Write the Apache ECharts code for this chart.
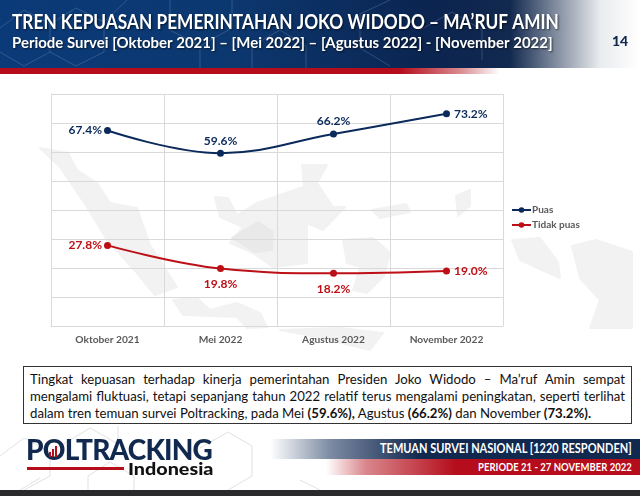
<!DOCTYPE html>
<html>
<head>
<meta charset="utf-8">
<title>Tren Kepuasan</title>
<script src="https://cdn.jsdelivr.net/npm/echarts@6/dist/echarts.min.js"></script>
<style>
html, body { margin: 0; padding: 0; background: #fff; }
#page { position: relative; width: 640px; height: 496px; overflow: hidden; font-family: Lato, sans-serif; }
#page > * { position: absolute; }
#header { left: 0; top: 0; width: 640px; height: 68px;
  background: linear-gradient(90deg, #0b3a78 0, #0c3870 230px, #0b2450 430px, #12294f 510px, #8b95a6 560px, #e9ebee 600px, #fff 640px); }
#redbar { left: 0; top: 68px; width: 640px; height: 6px;
  background: linear-gradient(90deg, #b50d1c 0, #b50d1c 400px, #d98a8f 460px, #fff 500px); }
#hex, #map { left: 0; top: 0; }
#pageNo { left: 606px; top: 32px; width: 28px; text-align: center; font-weight: 900; font-size: 14px; color: #10264d; }
#chart { left: 0; top: 0; width: 640px; height: 496px; }
#note { left: 23px; top: 366px; width: 609px; height: 58px; box-sizing: border-box; padding: 4px 6px 0; border: 1px solid #333; background: #fff;
  font-size: 13.2px; line-height: 17.2px; color: #111; }
#note div { text-align: justify; text-align-last: justify; white-space: nowrap; }
#note div.last { text-align-last: left; }
#bandNavy { left: 270px; top: 439px; width: 370px; height: 20px; background: linear-gradient(90deg, #fff 0, #7d8ba3 60px, #12294f 150px, #12294f 100%); }
#bandRed { left: 326px; top: 459px; width: 314px; height: 16px; background: linear-gradient(90deg, #fff 0, #d9868c 40px, #b50d1c 130px, #b50d1c 100%); }
.bandText { right: 8px; color: #fff; font-weight: 700; white-space: nowrap; transform-origin: right center; }
#navyText { top: 441px; font-size: 12.6px; transform: scaleX(0.875); }
#redText { top: 460px; font-size: 11.2px; transform: scaleX(0.85); }
#logo { left: 26px; top: 432px; font-weight: 900; font-size: 28px; letter-spacing: -0.8px; color: #12294f; white-space: nowrap; }
#logoBars { left: 48px; top: 445px; width: 11px; height: 12px; }
#logoLine { left: 27px; top: 467px; width: 97px; height: 3px; background: #b50d1c; }
#logoSub { left: 128px; top: 458px; font-weight: 900; font-size: 17px; color: #111; transform-origin: left center; transform: scaleX(1.16); }
#footBar { left: 0; top: 490px; width: 640px; height: 6px; background: #2a2a2c; }
</style>
</head>
<body>
<div id="page">
  <div id="header"></div>
  <div id="redbar"></div>
  <svg id="hex" width="640" height="496" fill="none" stroke-width="0.7">
    <g stroke="#7f9cc4" opacity="0.45">
      <path d="M0 28 L24 10 L50 24 L50 52 L24 66 L0 52"/>
      <path d="M50 24 L76 8 L104 22 L127 0 M104 22 L104 52 L76 66 L50 52"/>
      <path d="M170 0 L170 30 L200 46 L232 28 L232 0 M200 46 L200 68"/>
      <path d="M252 46 L280 30 L306 46 L306 68 M252 46 L252 68"/>
      <path d="M360 14 L390 0 M360 14 L360 48 L390 66 M420 30 L452 12 L482 30 L482 60"/>
    </g>
    <g stroke="#d4d4d4">
      <path d="M0 456 L24 438 L50 452 L50 476 L24 490"/>
      <path d="M50 452 L90 428 L118 444 M88 476 L110 462 L134 476 L134 490 M88 476 L88 490"/>
      <path d="M118 444 L118 426 M200 448 L228 432 L252 446 L252 476 L228 490"/>
      <path d="M20 490 L40 478 M300 480 L320 490"/>
    </g>
  </svg>
  <svg id="map" width="640" height="496" fill="#f2f2f2" stroke="#f2f2f2" stroke-width="2" stroke-linejoin="round">
    <path d="M40 148 L68 153 L77 170 L97 183 L110 203 L137 208 L150 245 L177 287 L155 295 L137 273 L107 240 L87 207 L60 167 Z"/>
    <path d="M215 197 L228 198 L237 215 L257 203 L303 187 L307 223 L307 263 L273 267 L253 253 L230 243 L243 227 L220 217 Z"/>
    <path d="M302 165 L327 165 L317 183 L333 207 L345 207 L323 230 L307 223 Z"/>
    <path d="M173 300 L197 298 L210 310 L237 303 L260 313 L267 327 L247 328 L237 317 L183 315 Z"/>
    <path d="M343 240 L373 238 L390 253 L384 276 L367 293 L353 290 L360 267 L347 263 Z"/>
    <path d="M280 330 L340 328 L383 333 L370 350 L317 337 Z"/>
    <path d="M372 210 L406 204 L410 212 L380 218 Z"/>
    <path d="M456 196 L470 190 L470 206 L458 216 Z"/>
    <path d="M512 240 L540 238 L558 262 L560 278 L542 270 L520 260 Z"/>
    <path d="M572 246 L596 240 L632 252 L632 328 L590 328 L600 300 L580 278 Z"/>
    <path fill="#e9e9e9" stroke="#e9e9e9" d="M232 238 L258 222 L273 232 L272 250 L255 252 Z"/>
  </svg>
  <div id="chart"></div>
  <div id="pageNo">14</div>
  <div id="note">
    <div>Tingkat kepuasan terhadap kinerja pemerintahan Presiden Joko Widodo – Ma’ruf Amin sempat</div>
    <div>mengalami fluktuasi, tetapi sepanjang tahun 2022 relatif terus mengalami peningkatan, seperti terlihat</div>
    <div class="last">dalam tren temuan survei Poltracking, pada Mei <b>(59.6%),</b> Agustus <b>(66.2%)</b> dan November <b>(73.2%).</b></div>
  </div>
  <div id="logo">POLTRACKING</div>
  <svg id="logoBars" width="11" height="12" fill="#b50d1c">
    <rect x="1" y="7" width="2" height="5"/><rect x="4" y="4" width="2" height="8"/><rect x="7" y="1" width="2" height="11"/>
  </svg>
  <div id="logoLine"></div>
  <div id="logoSub">Indonesia</div>
  <div id="bandNavy"></div>
  <div id="bandRed"></div>
  <div id="navyText" class="bandText">TEMUAN SURVEI NASIONAL [1220 RESPONDEN]</div>
  <div id="redText" class="bandText">PERIODE 21 - 27 NOVEMBER 2022</div>
  <div id="footBar"></div>
</div>
<script>
const categories = ['Oktober 2021', 'Mei 2022', 'Agustus 2022', 'November 2022'];
const puas = [67.4, 59.6, 66.2, 73.2];
const tidakPuas = [27.8, 19.8, 18.2, 19.0];
const judul = 'TREN KEPUASAN PEMERINTAHAN JOKO WIDODO – MA’RUF AMIN';
const subJudul = 'Periode Survei [Oktober 2021] – [Mei 2022] – [Agustus 2022] - [November 2022]';

const NAVY = '#0b2a5b';
const RED = '#bd0f16';
const GREY = '#595959';
const GRID = '#d9d9d9';
const FONT = 'Lato';

// letak label tiap titik mengikuti gambar asli
const posPuas = ['left', 'top', 'top', 'right'];
const posTidak = ['left', 'bottom', 'bottom', 'right'];
const jarakLabel = { left: 2, right: 4, top: 3, bottom: 6 };

const makeSeries = (name, values, color, positions) => ({
    name: name,
    type: 'line',
    smooth: 0.4,
    symbol: 'circle',
    symbolSize: 7,
    lineStyle: { color: color, width: 2 },
    itemStyle: { color: color },
    data: values.map((v, i) => ({
        value: v,
        label: {
            show: true,
            position: positions[i],
            distance: jarakLabel[positions[i]],
            color: color,
            fontFamily: FONT,
            fontWeight: 'bold',
            fontSize: 12,
            formatter: (p) => p.value.toFixed(1) + '%'
        }
    }))
});

const headText = (text, y, size, scale) => ({
    type: 'text',
    x: 12,
    y: y,
    scaleX: scale,
    style: {
        text: text,
        fill: '#fff',
        font: 'bold ' + size + 'px ' + FONT,
        textVerticalAlign: 'middle',
        textShadowColor: 'rgba(0,0,0,.6)',
        textShadowBlur: 2,
        textShadowOffsetX: 1,
        textShadowOffsetY: 1
    }
});

const myChart = echarts.init(document.getElementById('chart'), null, { renderer: 'canvas' });
myChart.setOption({
    animation: false,
    backgroundColor: 'transparent',
    graphic: [
        headText(judul, 23, 20, 0.863),
        headText(subJudul, 42.5, 15.5, 0.965)
    ],
    legend: {
        orient: 'vertical',
        left: 511,
        top: 205,
        padding: 0,
        itemWidth: 19,
        itemHeight: 7,
        itemGap: 5,
        textStyle: { color: GREY, fontFamily: FONT, fontWeight: 'bold', fontSize: 10, padding: [0, 0, 0, -4] },
        data: ['Puas', 'Tidak puas']
    },
    grid: { left: 51, right: 137, top: 94, bottom: 170 },
    xAxis: {
        type: 'category',
        data: categories,
        axisLine: { show: true, lineStyle: { color: GRID } },
        axisTick: { show: false },
        splitLine: { show: true, lineStyle: { color: GRID } },
        axisLabel: { color: GREY, fontFamily: FONT, fontWeight: 'bold', fontSize: 10.2, margin: 9 }
    },
    yAxis: {
        type: 'value',
        min: 0,
        max: 80,
        interval: 10,
        axisLine: { show: true, lineStyle: { color: GRID } },
        axisTick: { show: false },
        axisLabel: { show: false },
        splitLine: { show: true, lineStyle: { color: GRID } }
    },
    series: [
        makeSeries('Puas', puas, NAVY, posPuas),
        makeSeries('Tidak puas', tidakPuas, RED, posTidak)
    ]
});
</script>
</body>
</html>
